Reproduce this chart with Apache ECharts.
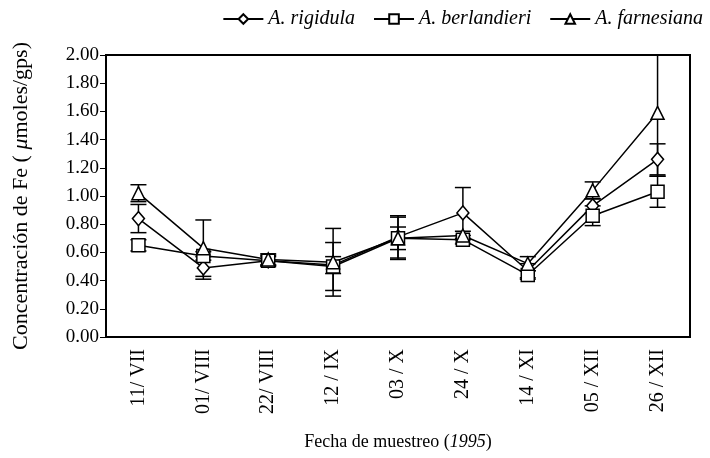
<!DOCTYPE html>
<html>
<head>
<meta charset="UTF-8">
<title>Concentración de Fe</title>
<script type="text/javascript" src="https://cdn.jsdelivr.net/npm/echarts@6/dist/echarts.min.js"></script>
<style>
  html, body { margin: 0; padding: 0; background: #fff; }
  #main { width: 710px; height: 458px; }
</style>
</head>
<body>
<div id="main"></div>
<script type="text/javascript">
// categorías (fechas de muestreo)
var fechas = ['11/ VII', '01/ VIII', '22/ VIII', '12 / IX', '03 / X', '24 / X', '14 / XI', '05 / XII', '26 / XII'];

var rigidula    = [0.84, 0.49, 0.54, 0.51, 0.71, 0.88, 0.47, 0.93, 1.26];
var berlandieri = [0.65, 0.575, 0.54, 0.50, 0.70, 0.69, 0.44, 0.86, 1.03];
var farnesiana  = [1.02, 0.63, 0.55, 0.53, 0.70, 0.72, 0.52, 1.04, 1.59];

// error (+/-)
var errRigidula    = [0.10, 0.08, 0.04, 0.06, 0.15, 0.18, 0.05, 0.05, 0.11];
var errBerlandieri = [0.04, 0.03, 0.03, 0.17, 0.08, 0.03, 0.03, 0.07, 0.11];
var errFarnesiana  = [0.06, 0.20, 0.04, 0.24, 0.15, 0.03, 0.05, 0.06, 0.45];

var yMin = 0, yMax = 2, yStep = 0.2;

function errData(vals, errs){
  var out = [];
  for (var i = 0; i < vals.length; i++) {
    out.push([i, vals[i] - errs[i], vals[i] + errs[i]]);
  }
  return out;
}

function renderErr(params, api){
  var hi = api.value(2), clipped = false;
  if (hi > yMax) { hi = yMax; clipped = true; }
  var top = api.coord([api.value(0), hi]);
  var bot = api.coord([api.value(0), api.value(1)]);
  var w = 8;
  var style = { stroke: '#000', lineWidth: 1.5 };
  var kids = [
    { type: 'line', shape: { x1: top[0], y1: top[1], x2: bot[0], y2: bot[1] }, style: style },
    { type: 'line', shape: { x1: bot[0] - w, y1: bot[1], x2: bot[0] + w, y2: bot[1] }, style: style }
  ];
  if (!clipped) {
    kids.push({ type: 'line', shape: { x1: top[0] - w, y1: top[1], x2: top[0] + w, y2: top[1] }, style: style });
  }
  return { type: 'group', children: kids };
}

function lineSerie(name, data, symbol, size){
  return {
    name: name,
    type: 'line',
    data: data,
    symbol: symbol,
    symbolSize: size,
    z: 3,
    lineStyle: { color: '#000', width: 1.5 },
    itemStyle: { color: '#fff', borderColor: '#000', borderWidth: 1.5 }
  };
}

function errSerie(vals, errs){
  return {
    type: 'custom',
    renderItem: renderErr,
    data: errData(vals, errs),
    z: 2,
    silent: true,
    encode: { x: 0, y: [1, 2] }
  };
}

var myChart = echarts.init(document.getElementById('main'));
var option = {
  animation: false,
  textStyle: { fontFamily: 'Liberation Serif', color: '#000' },
  legend: {
    top: 4,
    right: 2,
    itemWidth: 40,
    itemHeight: 12,
    itemGap: 18,
    textStyle: { fontFamily: 'Liberation Serif', fontStyle: 'italic', fontSize: 20, color: '#000' },
    data: ['A. rigidula', 'A. berlandieri', 'A. farnesiana']
  },
  grid: {
    left: 106, right: 20, top: 55, bottom: 121,
    outerBoundsMode: 'none',
    show: true, borderColor: '#000', borderWidth: 2, backgroundColor: 'transparent'
  },
  xAxis: {
    type: 'category',
    data: fechas,
    boundaryGap: true,
    name: 'Fecha de muestreo ({i|1995})',
    nameLocation: 'middle',
    nameGap: 96,
    nameTextStyle: {
      fontFamily: 'Liberation Serif', fontSize: 18, color: '#000',
      rich: { i: { fontStyle: 'italic', fontFamily: 'Liberation Serif', fontSize: 18 } }
    },
    axisLine: { lineStyle: { color: '#000', width: 2 } },
    axisTick: { inside: false, length: 4, lineStyle: { color: '#000' } },
    axisLabel: { rotate: 90, margin: 12, fontSize: 20, color: '#000', fontFamily: 'Liberation Serif' }
  },
  yAxis: {
    type: 'value',
    min: yMin,
    max: yMax,
    interval: yStep,
    name: 'Concentración de Fe ( {i|μ}moles/gps)',
    nameLocation: 'middle',
    nameGap: 74,
    nameTextStyle: {
      fontFamily: 'Liberation Serif', fontSize: 22, color: '#000',
      rich: { i: { fontStyle: 'italic', fontFamily: 'Liberation Serif', fontSize: 22 } }
    },
    splitLine: { show: false },
    axisLine: { show: true, lineStyle: { color: '#000', width: 2 } },
    axisTick: { show: true, length: 6, lineStyle: { color: '#000' } },
    axisLabel: {
      fontSize: 19, color: '#000', margin: 7, fontFamily: 'Liberation Serif',
      formatter: function(v){ return v.toFixed(2); }
    }
  },
  series: [
    lineSerie('A. rigidula', rigidula, 'diamond', [12, 14]),
    lineSerie('A. berlandieri', berlandieri, 'rect', 13),
    lineSerie('A. farnesiana', farnesiana, 'triangle', 13),
    errSerie(rigidula, errRigidula),
    errSerie(berlandieri, errBerlandieri),
    errSerie(farnesiana, errFarnesiana)
  ]
};
myChart.setOption(option);
</script>
</body>
</html>
